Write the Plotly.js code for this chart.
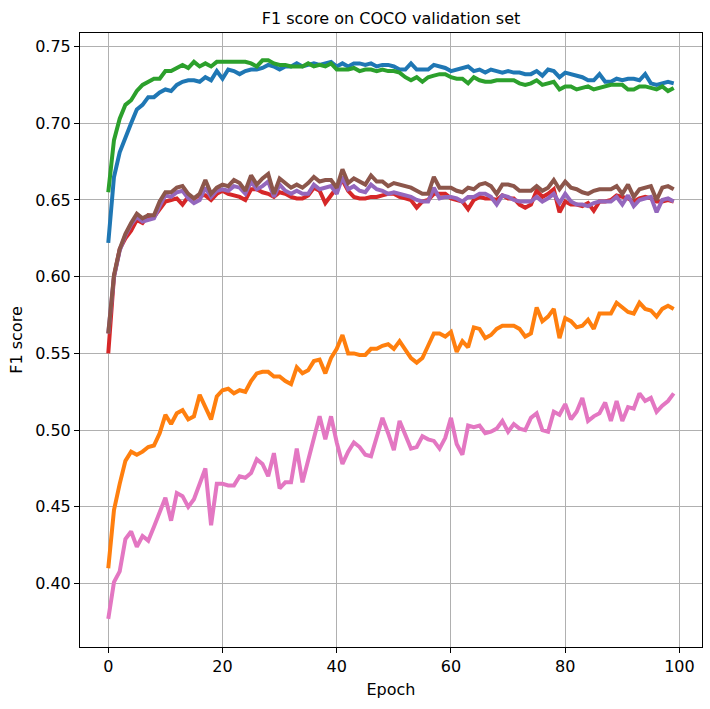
<!DOCTYPE html>
<html>
<head>
<meta charset="utf-8">
<script src="https://cdn.plot.ly/plotly-3.0.1.min.js"></script>
<style>
  html, body { margin: 0; padding: 0; background: #fff; }
  #f1-chart { width: 710px; height: 709px; }
</style>
</head>
<body>
<div id="f1-chart"></div>
<script>
const epochs = [0,1,2,3,4,5,6,7,8,9,10,11,12,13,14,15,16,17,18,19,
20,21,22,23,24,25,26,27,28,29,30,31,32,33,34,35,36,37,38,39,
40,41,42,43,44,45,46,47,48,49,50,51,52,53,54,55,56,57,58,59,
60,61,62,63,64,65,66,67,68,69,70,71,72,73,74,75,76,77,78,79,
80,81,82,83,84,85,86,87,88,89,90,91,92,93,94,95,96,97,98,99];

const blueRun = [0.622,0.665,0.681,0.691,0.700,0.709,0.712,0.717,0.717,0.720,
0.722,0.721,0.725,0.727,0.728,0.728,0.727,0.730,0.728,0.734,
0.729,0.735,0.734,0.732,0.734,0.735,0.735,0.736,0.738,0.737,
0.735,0.737,0.737,0.739,0.737,0.738,0.739,0.738,0.739,0.740,
0.737,0.739,0.737,0.739,0.739,0.738,0.739,0.737,0.738,0.738,
0.737,0.735,0.735,0.739,0.735,0.735,0.735,0.738,0.737,0.736,
0.734,0.735,0.736,0.737,0.734,0.735,0.733,0.735,0.734,0.733,
0.734,0.733,0.733,0.732,0.732,0.734,0.731,0.735,0.734,0.730,
0.733,0.732,0.731,0.730,0.728,0.728,0.732,0.727,0.727,0.729,
0.728,0.729,0.729,0.728,0.732,0.726,0.725,0.726,0.727,0.726];

const orangeRun = [0.410,0.448,0.465,0.480,0.486,0.484,0.486,0.489,0.490,0.498,
0.510,0.504,0.511,0.513,0.507,0.509,0.523,0.515,0.507,0.522,
0.526,0.527,0.524,0.526,0.525,0.532,0.537,0.538,0.538,0.535,
0.535,0.532,0.530,0.541,0.537,0.539,0.545,0.546,0.537,0.547,
0.553,0.562,0.550,0.550,0.549,0.549,0.553,0.553,0.555,0.556,
0.553,0.558,0.553,0.547,0.544,0.547,0.555,0.563,0.563,0.561,
0.564,0.551,0.558,0.554,0.567,0.566,0.560,0.562,0.566,0.568,
0.568,0.568,0.566,0.561,0.563,0.580,0.571,0.574,0.579,0.560,
0.573,0.571,0.567,0.568,0.572,0.566,0.576,0.576,0.576,0.583,
0.580,0.577,0.576,0.583,0.579,0.578,0.574,0.579,0.581,0.579];

const greenRun = [0.655,0.689,0.703,0.712,0.715,0.721,0.725,0.727,0.729,0.729,
0.734,0.734,0.736,0.738,0.736,0.740,0.737,0.739,0.737,0.740,
0.740,0.740,0.740,0.740,0.740,0.739,0.737,0.741,0.741,0.739,
0.738,0.738,0.737,0.737,0.737,0.739,0.737,0.738,0.737,0.739,
0.735,0.735,0.735,0.736,0.734,0.735,0.735,0.734,0.735,0.734,
0.734,0.733,0.730,0.728,0.730,0.727,0.730,0.731,0.732,0.732,
0.730,0.729,0.729,0.726,0.730,0.728,0.727,0.727,0.728,0.728,
0.728,0.728,0.726,0.725,0.726,0.728,0.725,0.726,0.727,0.722,
0.724,0.724,0.722,0.723,0.724,0.722,0.723,0.724,0.725,0.725,
0.725,0.722,0.722,0.724,0.724,0.723,0.722,0.724,0.721,0.723];

const redRun = [0.550,0.600,0.618,0.625,0.630,0.637,0.635,0.640,0.639,0.644,
0.649,0.650,0.651,0.647,0.652,0.651,0.653,0.653,0.650,0.654,
0.656,0.654,0.653,0.652,0.650,0.657,0.657,0.655,0.654,0.652,
0.655,0.654,0.652,0.651,0.651,0.653,0.658,0.656,0.648,0.653,
0.657,0.663,0.656,0.652,0.651,0.651,0.652,0.652,0.653,0.654,
0.654,0.652,0.651,0.650,0.645,0.649,0.650,0.654,0.654,0.654,
0.651,0.650,0.649,0.644,0.650,0.652,0.651,0.651,0.650,0.653,
0.651,0.651,0.647,0.645,0.647,0.656,0.652,0.654,0.657,0.642,
0.649,0.647,0.647,0.646,0.648,0.643,0.649,0.649,0.650,0.653,
0.652,0.651,0.649,0.651,0.652,0.651,0.649,0.649,0.650,0.649];

const purpleRun = [0.563,0.600,0.617,0.627,0.634,0.639,0.636,0.637,0.638,0.646,
0.653,0.652,0.655,0.656,0.651,0.648,0.650,0.658,0.652,0.656,
0.657,0.656,0.659,0.658,0.654,0.662,0.657,0.659,0.662,0.652,
0.660,0.656,0.654,0.656,0.654,0.654,0.660,0.657,0.658,0.659,
0.654,0.665,0.657,0.659,0.656,0.655,0.660,0.657,0.656,0.654,
0.655,0.654,0.653,0.652,0.650,0.649,0.649,0.658,0.651,0.652,
0.652,0.651,0.649,0.652,0.652,0.654,0.654,0.652,0.647,0.653,
0.652,0.650,0.649,0.649,0.649,0.652,0.649,0.651,0.654,0.648,
0.654,0.649,0.647,0.647,0.646,0.648,0.649,0.649,0.649,0.652,
0.647,0.653,0.646,0.650,0.651,0.652,0.642,0.650,0.651,0.649];

const brownRun = [0.563,0.601,0.618,0.628,0.635,0.641,0.638,0.640,0.640,0.649,
0.655,0.655,0.658,0.659,0.654,0.651,0.654,0.663,0.654,0.658,
0.660,0.659,0.663,0.661,0.656,0.666,0.660,0.664,0.667,0.654,
0.664,0.661,0.658,0.660,0.658,0.661,0.665,0.662,0.663,0.663,
0.658,0.670,0.661,0.664,0.662,0.660,0.666,0.662,0.662,0.659,
0.661,0.660,0.659,0.658,0.656,0.654,0.654,0.665,0.658,0.658,
0.658,0.656,0.655,0.658,0.657,0.660,0.661,0.659,0.654,0.660,
0.660,0.659,0.656,0.656,0.656,0.659,0.656,0.658,0.663,0.657,
0.662,0.658,0.657,0.655,0.654,0.656,0.657,0.657,0.657,0.659,
0.654,0.660,0.652,0.657,0.658,0.659,0.650,0.658,0.659,0.657];

const pinkRun = [0.377,0.401,0.408,0.429,0.434,0.424,0.431,0.428,0.437,0.447,
0.456,0.441,0.459,0.457,0.450,0.455,0.465,0.475,0.438,0.465,
0.465,0.464,0.464,0.470,0.469,0.472,0.481,0.478,0.470,0.485,
0.462,0.466,0.466,0.488,0.466,0.480,0.493,0.509,0.494,0.509,
0.492,0.478,0.486,0.492,0.489,0.484,0.483,0.496,0.508,0.498,
0.487,0.506,0.497,0.488,0.489,0.496,0.494,0.493,0.488,0.495,
0.508,0.491,0.484,0.503,0.502,0.503,0.498,0.499,0.501,0.506,
0.499,0.504,0.501,0.500,0.508,0.511,0.500,0.499,0.512,0.510,
0.517,0.507,0.512,0.521,0.506,0.509,0.511,0.518,0.506,0.519,
0.506,0.515,0.514,0.524,0.519,0.521,0.512,0.516,0.519,0.524];

const yTicks = [0.40,0.45,0.50,0.55,0.60,0.65,0.70,0.75];
const xTicks = [0,20,40,60,80,100];

// same order as the matplotlib default colour cycle
const runs = [blueRun, orangeRun, greenRun, redRun, purpleRun, brownRun, pinkRun];
const colors = ["#1f77b4","#ff7f0e","#2ca02c","#d62728","#9467bd","#8c564b","#e377c2"];

const data = runs.map(function (run, i) {
  return {
    x: epochs,
    y: run,
    type: "scatter",
    mode: "lines",
    line: {color: colors[i], width: 4},
    hoverinfo: "skip"
  };
});

const axisStyle = {
  showline: true,
  mirror: true,
  linecolor: "#000",
  linewidth: 1,
  ticks: "outside",
  ticklen: 5,
  tickwidth: 1,
  tickcolor: "#000",
  showgrid: true,
  gridcolor: "#b0b0b0",
  gridwidth: 1,
  zeroline: false
};

const layout = {
  width: 710,
  height: 709,
  margin: {l: 80, r: 8, t: 33, b: 62},
  paper_bgcolor: "#fff",
  plot_bgcolor: "#fff",
  font: {family: "DejaVu Sans", size: 16, color: "#000"},
  showlegend: false,
  title: {
    text: "F1 score on COCO validation set",
    font: {size: 16},
    x: 0.5, xref: "paper",
    y: 1 - 18 / 709, yref: "container", yanchor: "middle"
  },
  xaxis: Object.assign({}, axisStyle, {
    range: [-4.95, 103.95],
    tickvals: xTicks,
    title: {text: "Epoch", font: {size: 16}, standoff: 8}
  }),
  yaxis: Object.assign({}, axisStyle, {
    range: [0.3587, 0.7588],
    tickvals: yTicks,
    tickformat: ".2f",
    title: {text: "F1 score", font: {size: 16}, standoff: 8}
  })
};

Plotly.newPlot("f1-chart", data, layout, {displayModeBar: false, staticPlot: true});
</script>
</body>
</html>
